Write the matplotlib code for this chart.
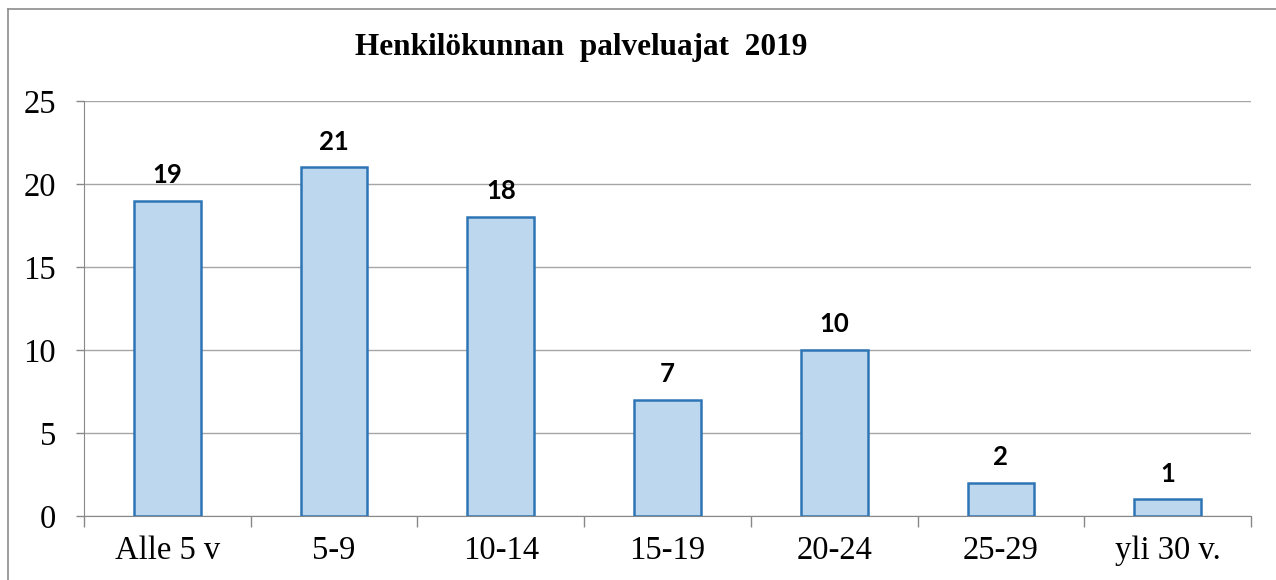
"""Staff length of service bar chart (2019)."""

import matplotlib
matplotlib.use("Agg")
import matplotlib.pyplot as plt
from matplotlib.lines import Line2D
import numpy as np

categories = ["Alle 5 v", "5-9", "10-14", "15-19", "20-24", "25-29", "yli 30 v."]
counts = [19, 21, 18, 7, 10, 2, 1]
y_ticks = [0, 5, 10, 15, 20, 25]

W, H = 1276, 580

figure = plt.figure(figsize=(W / 100, H / 100), dpi=100)
axis = figure.add_axes([84 / W, 1 - 516 / H, (1251 - 84) / W, (516 - 101) / H])

x = np.arange(len(categories))
axis.bar(x, counts, width=0.4, color="#BDD7EE", edgecolor="#2E75B6", linewidth=1.8, zorder=3)
for xi, value in zip(x, counts):
    axis.annotate(str(value), (xi, value), xytext=(0, 10), textcoords="offset points",
                  ha="center", va="bottom", fontsize=18.5, fontweight="bold", family="Lato")

axis.set_xlim(-0.5, len(categories) - 0.5)
axis.set_ylim(0, 25)
axis.set_yticks(y_ticks)
axis.set_yticklabels([str(t) for t in y_ticks], family="Liberation Serif", fontsize=23.5)
axis.set_xticks(x)
axis.set_xticklabels(categories, family="Liberation Serif", fontsize=23.5)
axis.tick_params(axis="x", length=0, pad=14)
axis.tick_params(axis="y", length=6, width=1, color="#888888", pad=14)
# category boundary ticks below the axis
axis.set_xticks(np.arange(len(categories) + 1) - 0.5, minor=True)
axis.tick_params(axis="x", which="minor", length=8, width=1, color="#888888")

axis.grid(axis="y", color="#A6A6A6", linewidth=1, zorder=0)
for side in ("top", "right"):
    axis.spines[side].set_visible(False)
axis.spines["left"].set_color("#888888")
axis.spines["bottom"].set_color("#888888")

figure.text(581 / W, 1 - 48 / H, "Henkilökunnan  palveluajat  2019", ha="center", va="center",
            family="Liberation Serif", fontweight="bold", fontsize=22.5)

# chart area border (cropped on the right and bottom)
figure.add_artist(Line2D([8 / W, 8 / W], [0, 1 - 9 / H], transform=figure.transFigure, color="#8C8C8C", linewidth=1.2))
figure.add_artist(Line2D([8 / W, 1], [1 - 9 / H, 1 - 9 / H], transform=figure.transFigure, color="#8C8C8C", linewidth=1.2))

figure.savefig("out.png", dpi=100)
plt.close(figure)
